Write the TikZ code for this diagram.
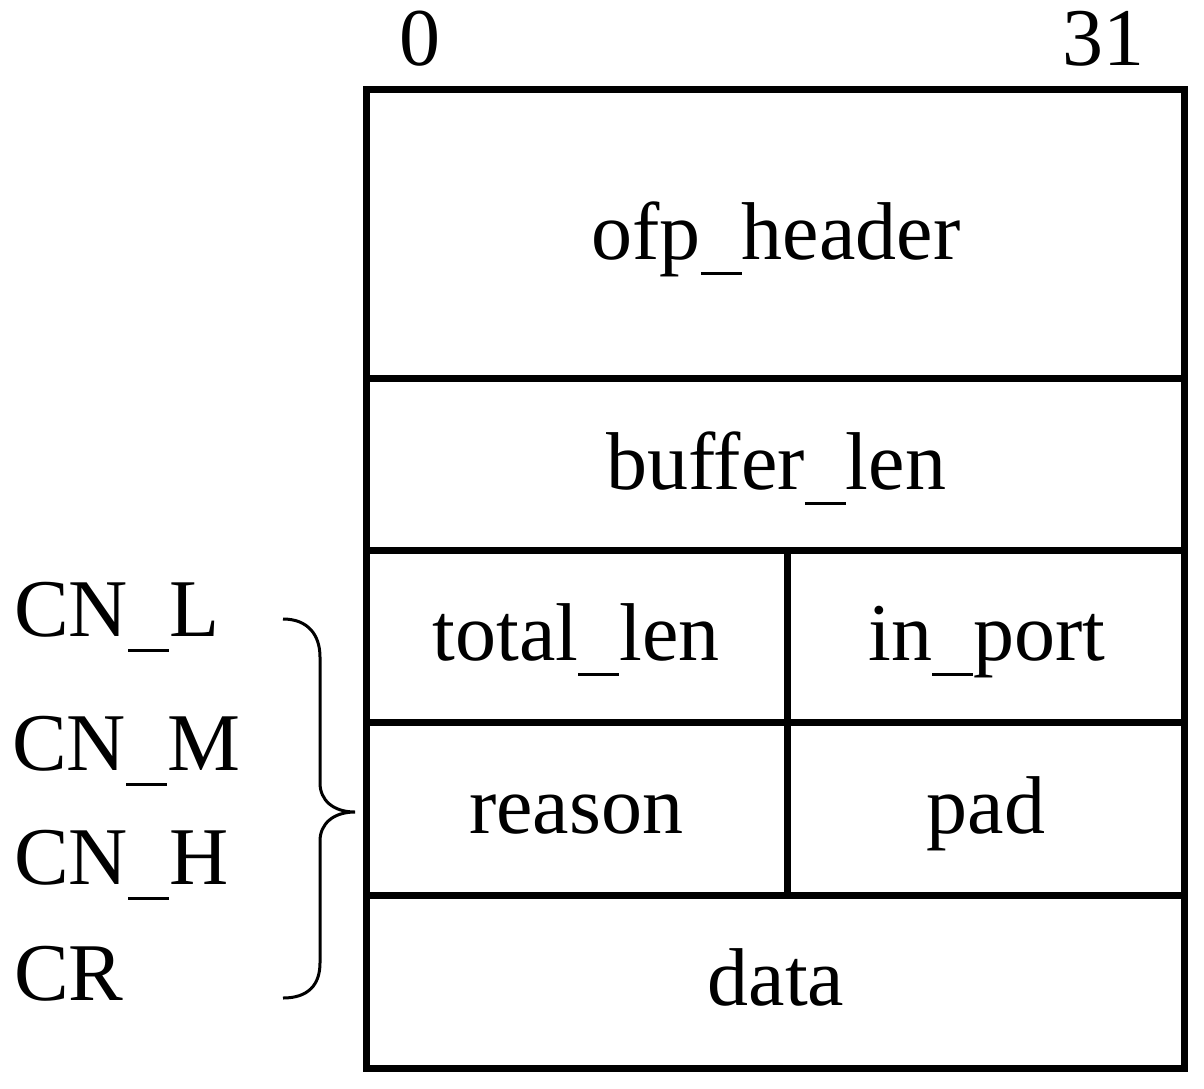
\documentclass[tikz,border=0pt]{standalone}
\usepackage{fontspec}
\setmainfont{Liberation Serif}
\newcommand{\us}{\rule[-0.2em]{0.5em}{0.045em}}
\begin{document}
\begin{tikzpicture}[x=1pt,y=-1pt,
  frame/.style={line width=7pt,line cap=rect},
  lbl/.style={font=\fontsize{82}{98}\selectfont,inner sep=0pt,anchor=base},
  side/.style={font=\fontsize{82}{98}\selectfont,inner sep=0pt,anchor=base west},
  brace/.style={line width=3pt}]
\useasboundingbox (0,0) rectangle (1204,1088);
% frame
\draw[frame] (366,89.5) rectangle (1184,1068);
\draw[frame] (366,378) -- (1184,378);
\draw[frame] (366,550) -- (1184,550);
\draw[frame] (366,722) -- (1184,722);
\draw[frame] (366,895) -- (1184,895);
\draw[frame,line cap=butt] (787,550) -- (787,895);
% bit numbers
\node[lbl] (b0) at (420,65) {0};
\node[lbl] (b31) at (1103,65) {31};
% fields
\node[lbl] (hdr) at (776,259) {ofp\us header};
\node[lbl] (buf) at (776,489) {buffer\us len};
\node[lbl] (tot) at (576,660) {total\us len};
\node[lbl] (inp) at (987,660) {in\us port};
\node[lbl] (rea) at (576,833) {reason};
\node[lbl] (pad) at (986,833) {pad};
\node[lbl] (dat) at (776,1005) {data};
% side labels
\node[side] (cnl) at (14,636) {CN\us L};
\node[side] (cnm) at (12,770) {CN\us M};
\node[side] (cnh) at (14,884) {CN\us H};
\node[side] (cr) at (14,1000) {CR};
% brace
\draw[brace] (283,619) .. controls (308,619) and (320,635) .. (320,657)
  -- (320,783) .. controls (320,800) and (333,812) .. (355,812)
  .. controls (333,812) and (320,824) .. (320,841)
  -- (320,963) .. controls (320,985) and (308,998) .. (283,998);
\end{tikzpicture}
\end{document}
